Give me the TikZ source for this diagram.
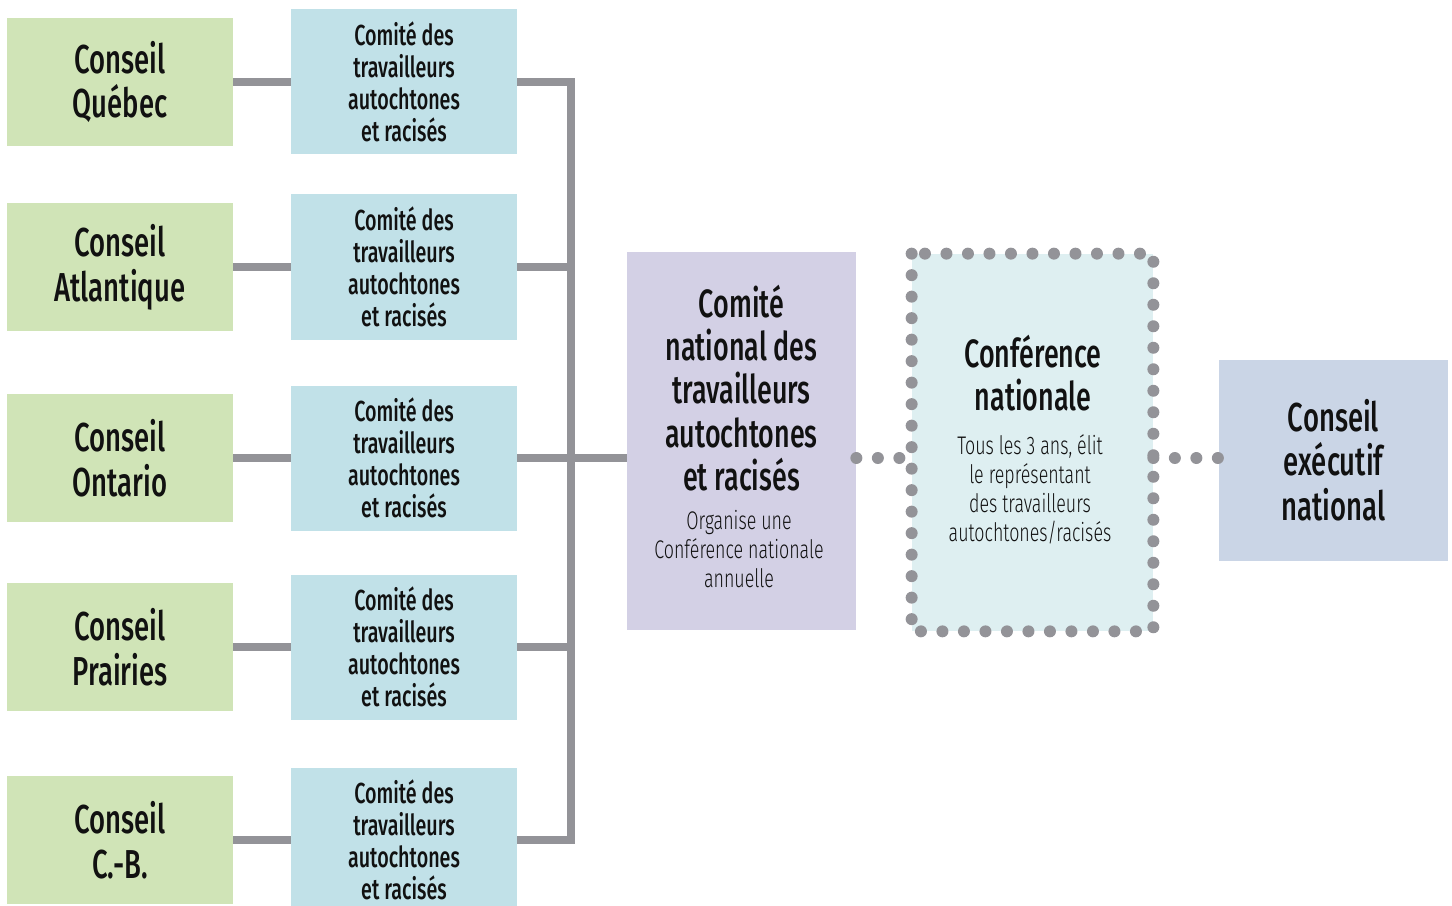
\documentclass[tikz,border=0pt]{standalone}
\usepackage{fontspec}
\setmainfont{Fira Sans Medium}[FakeStretch=0.68]
\newfontfamily\lightfont{Fira Sans Light}[FakeStretch=0.7]
\usetikzlibrary{calc, positioning}

\definecolor{councilgreen}{HTML}{D0E4B7}
\definecolor{committeeblue}{HTML}{C1E1E8}
\definecolor{nationalpurple}{HTML}{D3D0E5}
\definecolor{conferencecyan}{HTML}{DEEFF1}
\definecolor{executiveblue}{HTML}{CAD5E6}
\definecolor{linkgray}{HTML}{939398}
\definecolor{inkblack}{HTML}{111111}

\def\pxu{0.02cm}

\begin{document}
\begin{tikzpicture}[x=0.02cm, y=-0.02cm,
  every node/.style={text=inkblack, align=center, inner sep=0pt},
  council/.style={fill=councilgreen, minimum width=226*\pxu, minimum height=128*\pxu,
    font=\fontsize{23}{25.5}\selectfont},
  committee/.style={fill=committeeblue, minimum width=226*\pxu, minimum height=145*\pxu,
    font=\fontsize{16.5}{18.1}\selectfont},
  bigtxt/.style={font=\fontsize{22.5}{24.6}\selectfont},
  smalltxt/.style={font=\lightfont\fontsize{14.5}{16.5}\selectfont},
  link/.style={draw=linkgray, line width=8*\pxu},
  dots/.style={draw=linkgray, line width=12*\pxu, line cap=round,
    dash pattern=on 0pt off 21.5*\pxu}
 ]
 \useasboundingbox (0,0) rectangle (1452,905);

 % regional councils and their committees
 \foreach \i/\reg/\y in {1/Québec/82, 2/Atlantique/267, 3/Ontario/458,
                         4/Prairies/647, 5/C.-B./840} {
  \node [council] (cons\i) at (120,\y) {Conseil\\\reg};
  \node [committee] (com\i) at (404,\y) {Comité des\\travailleurs\\autochtones\\et racisés};
  \draw [link] (cons\i) -- (com\i);
 }

 \node [fill=nationalpurple, minimum width=229*\pxu, minimum height=378*\pxu] (N) at (741.5,441) {};
 \node [bigtxt] (Nt) at (741.5,388) {Comité\\national des\\travailleurs\\autochtones\\et racisés};
 \node [smalltxt] (Ns) at (739,549) {Organise une\\Conférence nationale\\annuelle};

 \node [fill=conferencecyan, minimum width=241*\pxu, minimum height=377*\pxu] (F) at (1032.5,442.5) {};
 \draw [dots] (F.north west) rectangle (F.south east);
 \node [bigtxt] (Ft) at (1033,373) {Conférence\\nationale};
 \node [smalltxt] (Fs) at (1030,489) {Tous les 3 ans, élit\\le représentant\\des travailleurs\\autochtones/racisés};

 \node [fill=executiveblue, minimum width=229*\pxu, minimum height=201*\pxu,
   font=\fontsize{23}{25.5}\selectfont] (E) at (1333.5,460) {Conseil\\exécutif\\national};

 % trunk joining the committees
 \coordinate (T) at (571,0);
 \draw [link] (com1.east) -| (com5.east -| T) -- (com5.east);
 \foreach \i in {2,4} {
  \draw [link] (com\i.east) -- (com\i.east -| T);
 }
 \draw [link] (com3.east) -- (com3.east -| N.west);

 \draw [dots] (N.east |- com3.east) -- (F.west |- com3.east);
 \draw [dots] (F.east |- com3.east) -- (E.west |- com3.east);
\end{tikzpicture}
\end{document}
